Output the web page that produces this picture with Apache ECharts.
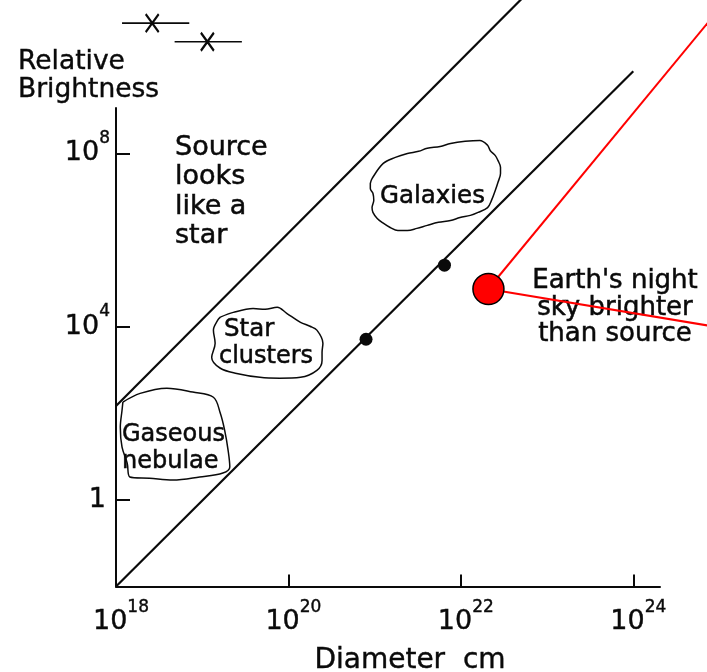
<!DOCTYPE html>
<html>
<head>
<meta charset="utf-8">
<title>Relative Brightness vs Diameter</title>
<script src="https://cdn.jsdelivr.net/npm/echarts@6/dist/echarts.min.js"></script>
<style>
  html, body { margin: 0; padding: 0; background: #fff; }
  #chart { width: 707px; height: 672px; }
</style>
</head>
<body>
<div id="chart"></div>
<script>
// All coordinates are base-10 exponents: x = log10(diameter / cm), y = log10(relative brightness)
const xTicks = [18, 20, 22, 24];
const yTicks = [0, 4, 8];

// Upper boundary: above it a source looks like a star
const starBoundary = [[18, 2.17], [22.72, 11.6]];
// Lower boundary: below it the night sky outshines the source
const skyLimit = [[18, -2], [24, 9.9]];
// Two plotted objects on the lower boundary
const measuredPoints = [[20.90, 3.71], [21.81, 5.42]];

// Outlines of the object classes
const galaxiesOutline = [
  [20.95, 7.31], [20.97, 7.42], [21.10, 7.77], [21.24, 7.91], [21.38, 8.00], [21.51, 8.05],
  [21.61, 8.12], [21.76, 8.16], [21.88, 8.23], [22.05, 8.28], [22.22, 8.30], [22.31, 8.19],
  [22.34, 8.07], [22.40, 7.95], [22.43, 7.84], [22.46, 7.68], [22.46, 7.54], [22.43, 7.33],
  [22.40, 7.15], [22.36, 6.94], [22.31, 6.75], [22.20, 6.64], [22.11, 6.57], [21.99, 6.52],
  [21.88, 6.45], [21.74, 6.41], [21.61, 6.34], [21.49, 6.27], [21.38, 6.22], [21.27, 6.22],
  [21.18, 6.29], [21.10, 6.39], [21.03, 6.50], [20.98, 6.64], [20.97, 6.75], [20.99, 6.92],
  [20.98, 7.08], [20.95, 7.19], [20.95, 7.31]
];
const clustersOutline = [
  [19.21, 4.22], [19.36, 4.33], [19.59, 4.42], [19.73, 4.40], [19.87, 4.45], [19.98, 4.31],
  [20.14, 4.10], [20.25, 4.01], [20.33, 3.92], [20.40, 3.62], [20.39, 3.41], [20.39, 3.22],
  [20.33, 2.99], [20.14, 2.83], [19.90, 2.81], [19.67, 2.83], [19.40, 2.92], [19.21, 3.04],
  [19.11, 3.29], [19.15, 3.62], [19.13, 3.92], [19.18, 4.15], [19.21, 4.22]
];
const nebulaeOutline = [
  [18.08, 2.26], [18.28, 2.46], [18.59, 2.58], [18.89, 2.49], [19.13, 2.37], [19.21, 2.00],
  [19.26, 1.61], [19.30, 1.15], [19.32, 0.76], [19.24, 0.62], [18.97, 0.53], [18.66, 0.46],
  [18.39, 0.50], [18.16, 0.53], [18.13, 0.85], [18.07, 1.22], [18.05, 1.68], [18.07, 2.07],
  [18.08, 2.26]
];

// Uncertainty bars above the plot
const barA = [[18.07, 11.01], [18.85, 11.01]];
const barACentre = [[18.42, 11.01]];
const barB = [[18.68, 10.58], [19.46, 10.58]];
const barBCentre = [[19.06, 10.58]];

// Night-sky marker and its pointer lines
const nightSky = [[22.32, 4.87]];
const pointerUp = [[22.32, 4.87], [25.01, 11.36]];
const pointerDown = [[22.32, 4.87], [25.01, 3.98]];

const FONT = 'DejaVu Sans';
const INK = '#0a0a0a';
const chart = echarts.init(document.getElementById('chart'), null, { renderer: 'canvas' });

function powerLabel(v) {
  if (v === 0) return '{one|1}';
  return '{b|10}{s|' + v + '}';
}

function outline(data) {
  return {
    type: 'line', data: data, smooth: 0.35, symbol: 'none', clip: false, silent: true,
    lineStyle: { color: INK, width: 1.5 }, z: 3
  };
}

function straight(data, color, width, z, axisIdx) {
  return {
    type: 'line', data: data, symbol: 'none', clip: false, silent: true,
    xAxisIndex: axisIdx || 0, yAxisIndex: axisIdx || 0,
    lineStyle: { color: color, width: width }, z: z
  };
}

// slightly heavier lettering
function note(x, y, text, size, extra) {
  return Object.assign({
    type: 'text', x: x, y: y, z: 1, silent: true,
    style: Object.assign({
      text: text, fontFamily: FONT, fontSize: size, fill: INK,
      stroke: INK, lineWidth: 0.5, verticalAlign: 'top'
    }, extra || {})
  });
}

const labelInk = { color: INK, textBorderColor: INK, textBorderWidth: 0.4 };
const crossMark = 'path://M0 0L12 16M12 0L0 16';

const option = {
  animation: false,
  backgroundColor: '#ffffff',
  title: {
    text: 'Relative\nBrightness',
    left: 18, top: 48, padding: 0,
    textStyle: Object.assign({ fontFamily: FONT, fontSize: 26.5, fontWeight: 'normal', lineHeight: 28 }, labelInk)
  },
  grid: [
    { left: 116, right: 47, top: 108, bottom: 85.5, outerBoundsMode: 'none', containLabel: false },
    // same scale, extended past the right edge for the pointer lines
    { left: 116, right: -13, top: 108, bottom: 85.5, outerBoundsMode: 'none', containLabel: false }
  ],
  xAxis: [{
    type: 'value', min: 18, max: 24.31, gridIndex: 0,
    name: 'Diameter  cm', nameLocation: 'middle', nameGap: 60,
    nameTextStyle: Object.assign({ fontFamily: FONT, fontSize: 28, padding: [0, 0, 0, 44] }, labelInk),
    axisLine: { show: true, onZero: false, lineStyle: { color: INK, width: 2 } },
    axisTick: { show: true, inside: true, length: 12, customValues: xTicks, lineStyle: { color: INK, width: 2 } },
    axisLabel: {
      customValues: xTicks, margin: 13, formatter: powerLabel,
      rich: {
        b: Object.assign({ fontFamily: FONT, fontSize: 27, padding: [0, 0, 0, 10] }, labelInk),
        s: Object.assign({ fontFamily: FONT, fontSize: 17, padding: [0, 0, 27, 0] }, labelInk),
        one: Object.assign({ fontFamily: FONT, fontSize: 27 }, labelInk)
      }
    },
    splitLine: { show: false }
  }, {
    type: 'value', min: 18, max: 25.01, gridIndex: 1, show: false
  }],
  yAxis: [{
    type: 'value', min: -2, max: 9.05, gridIndex: 0,
    axisLine: { show: true, onZero: false, lineStyle: { color: INK, width: 2 } },
    axisTick: { show: true, inside: true, length: 14, customValues: yTicks, lineStyle: { color: INK, width: 2 } },
    axisLabel: {
      customValues: yTicks, margin: 6, formatter: powerLabel,
      rich: {
        b: Object.assign({ fontFamily: FONT, fontSize: 27 }, labelInk),
        s: Object.assign({ fontFamily: FONT, fontSize: 17, padding: [0, 0, 30, 0] }, labelInk),
        one: Object.assign({ fontFamily: FONT, fontSize: 27, padding: [0, 4, 0, 0] }, labelInk)
      }
    },
    splitLine: { show: false }
  }, {
    type: 'value', min: -2, max: 9.05, gridIndex: 1, show: false
  }],
  graphic: [
    note(175, 133, 'Source\nlooks\nlike a\nstar', 27, { lineHeight: 29.5 }),
    note(380, 196.5, 'Galaxies', 24.5, { verticalAlign: 'middle' }),
    note(224, 329.5, 'Star', 24.5, { verticalAlign: 'middle' }),
    note(219, 356.5, 'clusters', 24, { verticalAlign: 'middle' }),
    note(122, 421, 'Gaseous\nnebulae', 24, { lineHeight: 27 }),
    note(615, 268, "Earth's night\nsky brighter\nthan source", 26, { lineHeight: 26.5, align: 'center' })
  ],
  series: [
    straight(starBoundary, INK, 2.2, 4),
    straight(skyLimit, INK, 2.2, 4),
    outline(galaxiesOutline),
    outline(clustersOutline),
    outline(nebulaeOutline),
    {
      type: 'scatter', data: measuredPoints, symbol: 'circle', symbolSize: 13, silent: true,
      itemStyle: { color: INK, opacity: 1 }, z: 5
    },
    straight(barA, INK, 1.6, 4),
    straight(barB, INK, 1.6, 4),
    {
      type: 'scatter', data: barACentre.concat(barBCentre), symbol: crossMark, symbolSize: [13, 18],
      clip: false, silent: true,
      itemStyle: { color: 'rgba(0,0,0,0)', borderColor: INK, borderWidth: 2.4, opacity: 1 }, z: 5
    },
    straight(pointerUp, '#ff0000', 2, 10, 1),
    straight(pointerDown, '#ff0000', 2, 10, 1),
    {
      type: 'scatter', data: nightSky, symbol: 'circle', symbolSize: 31, silent: true, clip: false,
      itemStyle: { color: '#ff0000', borderColor: '#000', borderWidth: 1.5, opacity: 1 }, z: 11
    }
  ]
};

chart.setOption(option);
</script>
</body>
</html>
